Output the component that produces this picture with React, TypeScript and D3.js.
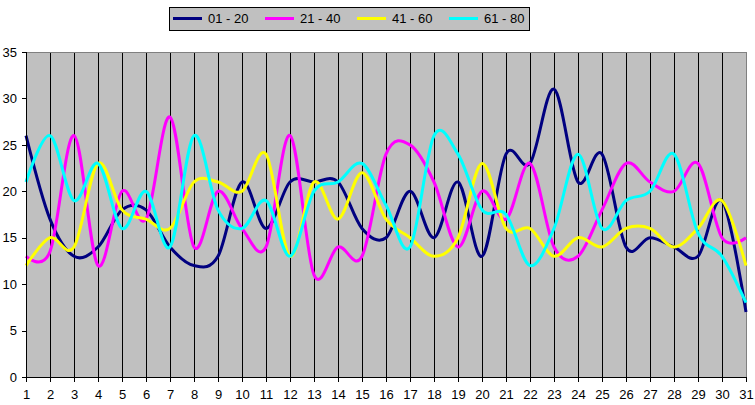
import React from 'react';
import * as d3 from 'd3';

const categories = [1, 2, 3, 4, 5, 6, 7, 8, 9, 10, 11, 12, 13, 14, 15, 16, 17, 18, 19, 20, 21, 22, 23, 24, 25, 26, 27, 28, 29, 30, 31];

const series01to20 = [26, 17, 13, 14, 18, 18, 14, 12, 13, 21, 16, 21, 21, 21, 16, 15, 20, 15, 21, 13, 24, 23, 31, 21, 24, 14, 15, 14, 13, 19, 7];
const series21to40 = [13, 13.5, 26, 12, 20, 17, 28, 14, 20, 16, 14, 26, 11, 14, 13, 24, 25, 21, 14, 20, 17, 23, 14, 13, 18, 23, 21, 20, 23, 15, 15];
const series41to60 = [12, 15, 14, 23, 18, 17, 16, 21, 21, 20, 24, 13, 21, 17, 22, 17, 15, 13, 15, 23, 16, 16, 13, 15, 14, 16, 16, 14, 16, 19, 12];
const series61to80 = [21, 26, 19, 23, 16, 20, 14, 26, 18, 16, 19, 13, 20, 21, 23, 18.5, 14, 26, 24, 18, 17.5, 12, 16, 24, 16, 19, 20, 24, 15.5, 13, 8];

const yTicks = [0, 5, 10, 15, 20, 25, 30, 35];

const seriesList = [
  { name: '01 - 20', values: series01to20, color: '#000080' },
  { name: '21 - 40', values: series21to40, color: '#FF00FF' },
  { name: '41 - 60', values: series41to60, color: '#FFFF00' },
  { name: '61 - 80', values: series61to80, color: '#00FFFF' },
];

const W = 755;
const H = 405;
const plot = { left: 26, right: 746, top: 52, bottom: 377 };
const font = 'Arial, "Liberation Sans", sans-serif';

export default function App() {
  const x = d3.scaleLinear()
    .domain([categories[0], categories[categories.length - 1]])
    .range([plot.left, plot.right]);
  const y = d3.scaleLinear().domain([0, 35]).range([plot.bottom, plot.top]);

  const line = d3.line<number>()
    .x((_, i) => x(categories[i]))
    .y(d => y(d))
    .curve(d3.curveCardinal.tension(0));

  return (
    <svg width={W} height={H} style={{ position: 'absolute', left: 0, top: 0 }}>
      <rect x={0} y={0} width={W} height={H} fill="#ffffff" />

      {/* plot background */}
      <rect x={plot.left} y={plot.top} width={plot.right - plot.left} height={plot.bottom - plot.top} fill="#C0C0C0" />

      {/* vertical grid lines */}
      {categories.slice(1, -1).map(c => (
        <line key={'g' + c} x1={x(c) + 0.5} x2={x(c) + 0.5} y1={plot.top} y2={plot.bottom} stroke="#000" strokeWidth={1} />
      ))}

      {/* top and right border */}
      <line x1={plot.left} x2={plot.right + 0.5} y1={plot.top + 0.5} y2={plot.top + 0.5} stroke="#808080" />
      <line x1={plot.right + 0.5} x2={plot.right + 0.5} y1={plot.top} y2={plot.bottom} stroke="#808080" />

      {/* series */}
      {seriesList.map(s => (
        <path key={s.name} d={line(s.values) || ''} fill="none" stroke={s.color} strokeWidth={3} strokeLinejoin="round" />
      ))}

      {/* y axis */}
      <line x1={plot.left + 0.5} x2={plot.left + 0.5} y1={plot.top} y2={plot.bottom + 4} stroke="#000" />
      {yTicks.map(t => (
        <g key={'y' + t}>
          <line x1={plot.left - 4} x2={plot.left} y1={Math.round(y(t)) + 0.5} y2={Math.round(y(t)) + 0.5} stroke="#000" />
          <text x={plot.left - 9} y={y(t)} dy="0.36em" textAnchor="end" fontFamily={font} fontSize={13} fill="#000">{t}</text>
        </g>
      ))}

      {/* x axis */}
      <line x1={plot.left} x2={plot.right + 1} y1={plot.bottom + 0.5} y2={plot.bottom + 0.5} stroke="#000" />
      {categories.map(c => (
        <g key={'x' + c}>
          <line x1={x(c) + 0.5} x2={x(c) + 0.5} y1={plot.bottom} y2={plot.bottom + 5} stroke="#000" />
          <text x={x(c) + 0.5} y={399} textAnchor="middle" fontFamily={font} fontSize={13} fill="#000">{c}</text>
        </g>
      ))}

      {/* legend */}
      <rect x={169.5} y={7.5} width={360} height={23} fill="#C0C0C0" stroke="#000" strokeWidth={1} />
      {seriesList.map((s, i) => {
        const lx = 173 + i * 92;
        return (
          <g key={'l' + s.name}>
            <line x1={lx} x2={lx + 29} y1={18.5} y2={18.5} stroke={s.color} strokeWidth={3} />
            <text x={lx + 35} y={23} fontFamily={font} fontSize={13} fill="#000">{s.name}</text>
          </g>
        );
      })}
    </svg>
  );
}
